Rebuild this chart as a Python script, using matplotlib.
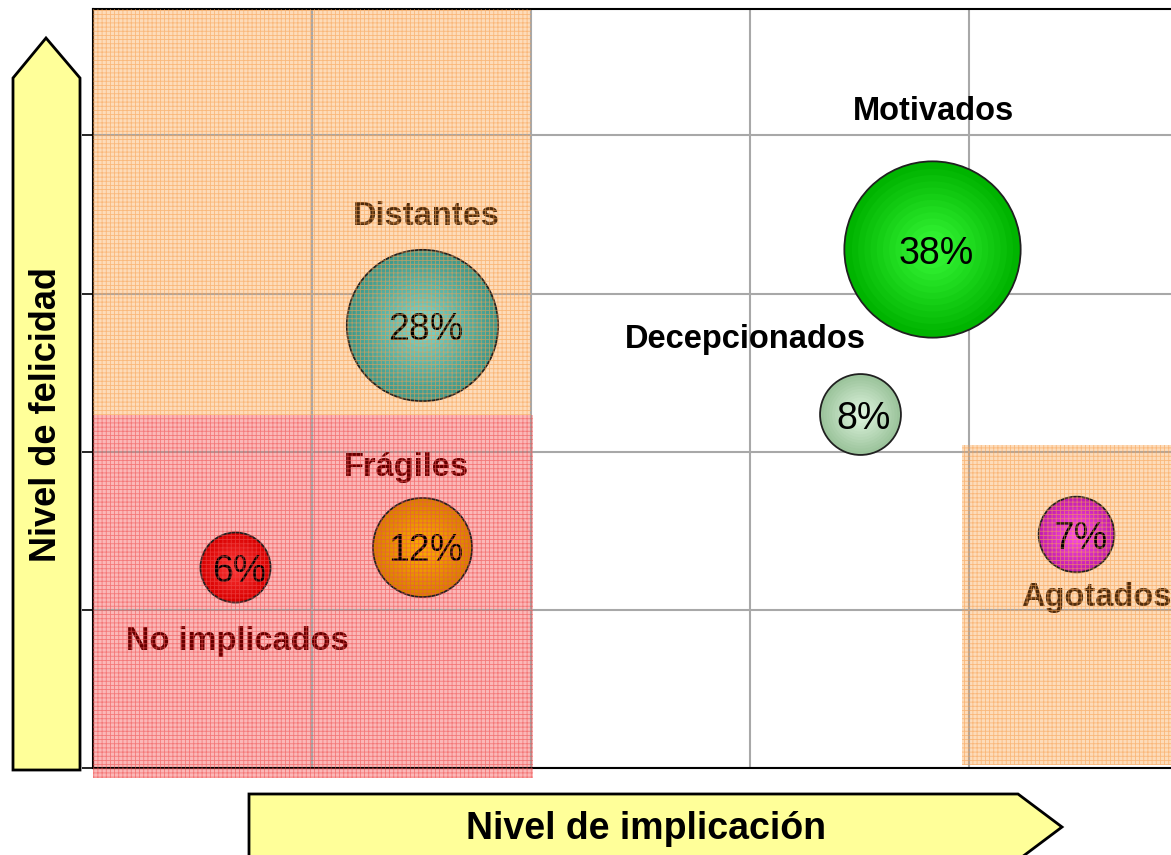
import matplotlib
matplotlib.use("Agg")
import matplotlib.pyplot as plt
import matplotlib.patches as patches
from matplotlib import colors as mcolors
import numpy as np

plt.rcParams['font.family'] = ['Liberation Sans', 'DejaVu Sans']
plt.rcParams['hatch.linewidth'] = 0.6

# bubbles: implicacion (x), felicidad (y), share %
groups = ['No implicados', 'Frágiles', 'Distantes', 'Decepcionados', 'Motivados', 'Agotados']
implicacion = [0.65, 1.50, 1.50, 3.50, 3.83, 4.49]
felicidad = [1.27, 1.40, 2.80, 2.24, 3.28, 1.48]
share = [6, 12, 28, 8, 38, 7]
edge_cols = ['#d80000', '#d98200', '#3f9a8c', '#9cc49c', '#00b400', '#c21cb0']
center_cols = ['#ff3a3a', '#ffb000', '#86d8cb', '#e4f8e4', '#3cff3c', '#ff50e8']

# group label positions and colours
label_x = [0.66, 1.43, 1.52, 2.98, 3.84, 4.58]
label_y = [0.80, 1.90, 3.49, 2.71, 4.15, 1.08]
label_cols = ['#660000', '#660000', '#4e2c0e', 'black', 'black', '#4e2c0e']

# shaded zones: x0, x1, y0, y1
zones = [(0, 2.0, 2.234, 4.8), (0, 2.01, -0.063, 2.234), (3.968, 5.2, 0.02, 2.044)]
zone_face = ['#fddcba', '#fbb8b8', '#fddcba']
zone_hatch = ['#f8a050', '#f04e4e', '#f8a050']

W, H = 1171, 855
fig = plt.figure(figsize=(W / 100, H / 100), dpi=100)
ax = fig.add_axes([93 / W, (H - 768) / H, (1188 - 93) / W, (768 - 9) / H])
ax.set_xlim(0, 5)
ax.set_ylim(0, 4.8)
ax.set_xticks(np.arange(0, 6, 1))
ax.set_yticks(np.arange(0, 5, 1))
ax.set_xticklabels([])
ax.set_yticklabels([])
ax.tick_params(axis='x', length=0)
ax.tick_params(axis='y', length=8, width=1.2, direction='out')
ax.grid(True, color='#a8a8a8', linewidth=1.5, zorder=0.5)
ax.set_axisbelow(True)
for sp in ax.spines.values():
    sp.set_linewidth(1.5)
    sp.set_color('black')

for (x0, x1, y0, y1), fc, hc in zip(zones, zone_face, zone_hatch):
    ax.add_patch(patches.Rectangle((x0, y0), x1 - x0, y1 - y0, facecolor=fc,
                                   edgecolor='none', zorder=0.2, clip_on=False))
    ax.add_patch(patches.Rectangle((x0, y0), x1 - x0, y1 - y0, facecolor='none',
                                   edgecolor=hc, hatch='++++', linewidth=0,
                                   alpha=0.6, zorder=4, clip_on=False))

# bubbles with a simple radial shading
n_layers = 14
for x, y, v, ec, cc in zip(implicacion, felicidad, share, edge_cols, center_cols):
    s = 424 * v
    ax.scatter([x], [y], s=s, color=ec, edgecolors='#202020', linewidths=1.3, zorder=2)
    e = np.array(mcolors.to_rgb(ec))
    c = np.array(mcolors.to_rgb(cc))
    for i in range(1, n_layers):
        f = i / n_layers
        col = e + (c - e) * f
        ax.scatter([x], [y], s=s * (1 - f) ** 2 * 0.97, color=col, linewidths=0, zorder=2)
    ax.text(x + 0.02, y - 0.03, f'{v}%', fontsize=27, ha='center', va='center',
            color='black', zorder=3)

for name, lx, ly, lc in zip(groups, label_x, label_y, label_cols):
    ax.text(lx, ly, name, fontsize=23.5, fontweight='bold', ha='center', va='center',
            color=lc, zorder=3)

# yellow axis arrows
def px(pts):
    return [(a / W, 1 - b / H) for a, b in pts]

v_arrow = px([(13, 770), (13, 78), (46, 38), (80, 78), (80, 770)])
h_arrow = px([(249, 794), (1018, 794), (1062, 827), (1018, 860), (249, 860)])
for verts in (v_arrow, h_arrow):
    fig.add_artist(patches.Polygon(verts, closed=True, facecolor='#ffff99',
                                   edgecolor='black', linewidth=2,
                                   transform=fig.transFigure))

fig.text(47 / W, 1 - 414 / H, 'Nivel de felicidad', rotation=90, fontsize=26,
         fontweight='bold', ha='center', va='center')
fig.text(646 / W, 1 - 829 / H, 'Nivel de implicación', fontsize=27,
         fontweight='bold', ha='center', va='center')

fig.savefig('out.png', dpi=100)
